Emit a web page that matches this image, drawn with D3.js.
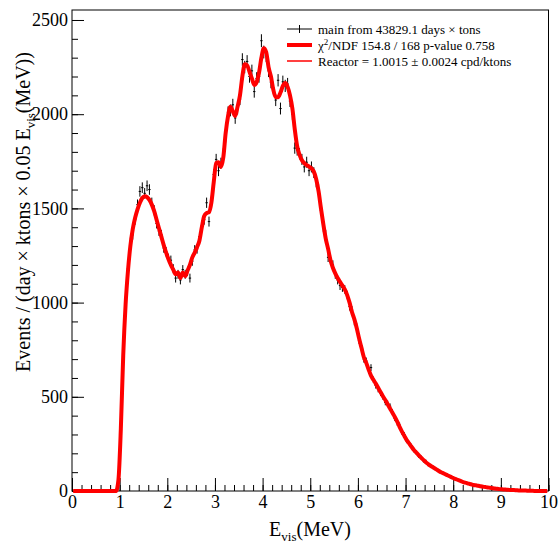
<!DOCTYPE html>
<html>
<head>
<meta charset="utf-8">
<script src="https://cdn.jsdelivr.net/npm/d3@7"></script>
<style>
  body { margin: 0; background: #fff; }
  svg text { font-family: "Liberation Serif", "Times New Roman", serif; fill: #000; }
</style>
</head>
<body>
<svg id="chart" width="558" height="543"></svg>
<script>
// Bin width of the histogram (MeV)
const binWidth = 0.05;

// Fit curve, one value per 0.05 MeV bin from 0 to 10 MeV
const fitValues = [
    0, 0, 0, 0, 0, 0, 0, 0, 0, 0,
    0, 0, 0, 0, 0, 0, 0, 0, 0, 60,
    330, 720, 990, 1170, 1300, 1390, 1450, 1495, 1530, 1555,
    1565, 1560, 1545, 1520, 1485, 1440, 1395, 1350, 1305, 1265,
    1230, 1200, 1175, 1150, 1160, 1130, 1160, 1140, 1170, 1200,
    1240, 1265, 1295, 1330, 1400, 1460, 1475, 1480, 1530, 1640,
    1740, 1745, 1720, 1770, 1900, 1990, 2040, 2015, 1990, 2040,
    2100, 2200, 2265, 2260, 2225, 2190, 2155, 2170, 2220, 2300,
    2350, 2330, 2250, 2200, 2130, 2090, 2090, 2115, 2150, 2165,
    2145, 2100, 2030, 1920, 1830, 1785, 1755, 1740, 1730, 1722,
    1712, 1695, 1655, 1590, 1500, 1415, 1340, 1285, 1225, 1185,
    1155, 1130, 1110, 1090, 1070, 1040, 1000, 950, 912, 865,
    810, 760, 710, 680, 645, 612, 590, 570, 548, 525,
    503, 483, 460, 438, 415, 393, 368, 340, 315, 292,
    270, 253, 235, 218, 204, 190, 177, 165, 153, 143,
    134, 126, 118, 110, 102, 96, 90, 84, 78, 72,
    66, 61, 56, 51, 46, 43, 39, 36, 32, 30,
    28, 25, 23, 21, 19, 17, 15, 13, 12, 10,
    9, 8, 7, 6, 5, 5, 4, 3, 3, 2,
    2, 1, 1, 1, 0, 0, 0, 0, 0, 0
];

// Measured points, starting at bin 20 (1.0 - 1.05 MeV)
const firstDataBin = 20;
const dataValues = [
    340, 700, 1000, 1180, 1320, 1360, 1440, 1520, 1590, 1610,
    1580, 1620, 1600, 1530, 1490, 1420, 1380, 1360, 1290, 1270,
    1235, 1225, 1180, 1130, 1150, 1120, 1175, 1150, 1165, 1130,
    1220, 1280, 1285, 1350, 1410, 1440, 1530, 1430, 1540, 1680,
    1760, 1700, 1740, 1790, 1880, 2010, 2020, 2050, 1980, 2030,
    2080, 2290, 2250, 2280, 2200, 2230, 2120, 2190, 2200, 2390,
    2330, 2310, 2230, 2170, 2140, 2075, 2180, 2030, 2172, 2150,
    2160, 2070, 2000, 1820, 1810, 1790, 1760, 1720, 1745, 1700,
    1720, 1690, 1640, 1600, 1490, 1400, 1360, 1240, 1230, 1200,
    1150, 1120, 1090, 1080, 1070, 1040, 980, 960, 900, 870,
    800, 770, 700, 690, 640, 655, 590, 560, 540, 520,
    500, 470, 465, 450, 420, 385, 360, 350, 310, 300,
    265, 255, 240, 215, 205, 185, 180, 160, 158, 140,
    130, 128, 115, 112, 100, 98, 88, 85, 75, 74,
    65, 62, 54, 52, 45, 44, 38, 37, 31, 30,
    27, 26, 22, 21, 18, 18, 14, 13, 12, 10,
    9, 8, 7, 6, 5, 5, 4, 3, 3, 2
];

// Axis ticks
const xTickValues = [0, 1, 2, 3, 4, 5, 6, 7, 8, 9, 10];
const yTickValues = [0, 500, 1000, 1500, 2000, 2500];

// Legend entries
const legendLabels = [
    "main from 43829.1 days \u00d7 tons",
    "/NDF 154.8 / 168 p-value 0.758",
    "Reactor = 1.0015 \u00b1 0.0024 cpd/ktons"
];

window.onload = init;

function init() {
    const svg = d3.select("#chart");

    const x = d3.scaleLinear().domain([0, 10]).range([72, 548.5]);
    const y = d3.scaleLinear().domain([0, 2553]).range([491, 10]);

    // Minor ticks
    svg.append("g")
        .attr("transform", "translate(0,491)")
        .call(d3.axisBottom(x).tickValues(d3.range(0, 10.01, 0.2)).tickSize(-6).tickFormat(""))
        .call(g => g.select(".domain").remove());
    svg.append("g")
        .attr("transform", "translate(72,0)")
        .call(d3.axisLeft(y).tickValues(d3.range(0, 2501, 100)).tickSize(-6).tickFormat(""))
        .call(g => g.select(".domain").remove());

    // Major ticks + labels
    const xAxis = svg.append("g")
        .attr("transform", "translate(0,491)")
        .call(d3.axisBottom(x).tickValues(xTickValues).tickSize(-13).tickPadding(4.5).tickFormat(d3.format("d")));
    xAxis.select(".domain").remove();

    const yAxis = svg.append("g")
        .attr("transform", "translate(72,0)")
        .call(d3.axisLeft(y).tickValues(yTickValues).tickSize(-12).tickPadding(4).tickFormat(d3.format("d")));
    yAxis.select(".domain").remove();

    svg.selectAll(".tick text").style("font-size", "18px");
    svg.selectAll(".tick line").attr("stroke", "#000");

    // Frame
    svg.append("rect")
        .attr("x", 72).attr("y", 10)
        .attr("width", 476.5).attr("height", 481)
        .attr("fill", "none").attr("stroke", "#000").attr("stroke-width", 1);

    // Data points with error bars
    const points = dataValues.map((v, i) => ({
        e: (firstDataBin + i + 0.5) * binWidth,
        v: v,
        err: 0.7 * Math.sqrt(v)   // statistical error
    }));

    const pts = svg.append("g").attr("stroke", "#000").attr("stroke-width", 1);
    pts.selectAll(".ebar")
        .data(points)
        .join("line")
        .attr("x1", d => x(d.e)).attr("x2", d => x(d.e))
        .attr("y1", d => y(d.v - d.err)).attr("y2", d => y(d.v + d.err));
    pts.selectAll(".hbar")
        .data(points)
        .join("line")
        .attr("x1", d => x(d.e - binWidth / 2)).attr("x2", d => x(d.e + binWidth / 2))
        .attr("y1", d => y(d.v)).attr("y2", d => y(d.v));

    // Fit curve
    const fitPoints = fitValues.map((v, i) => [(i + 0.5) * binWidth, v]);
    const line = d3.line()
        .x(d => x(d[0]))
        .y(d => y(d[1]))
        .curve(d3.curveMonotoneX);
    svg.append("path")
        .datum(fitPoints)
        .attr("d", line)
        .attr("fill", "none")
        .attr("stroke", "#ff0000")
        .attr("stroke-width", 4)
        .attr("stroke-linejoin", "round");

    // Axis titles
    const xTitle = svg.append("text")
        .attr("x", 310).attr("y", 536)
        .attr("text-anchor", "middle")
        .style("font-size", "20px");
    xTitle.append("tspan").text("E");
    xTitle.append("tspan").attr("dy", 5).style("font-size", "13px").text("vis");
    xTitle.append("tspan").attr("dy", -5).text("(MeV)");

    const yTitle = svg.append("text")
        .attr("transform", "translate(30,212) rotate(-90)")
        .attr("text-anchor", "middle")
        .style("font-size", "20px");
    yTitle.append("tspan").text("Events / (day \u00d7 ktons \u00d7 0.05 E");
    yTitle.append("tspan").attr("dy", 5).style("font-size", "13px").text("vis");
    yTitle.append("tspan").attr("dy", -5).text("(MeV))");

    // Legend
    const legend = svg.append("g");
    const rowY = [29, 45, 61];

    legend.append("line").attr("x1", 287).attr("x2", 312).attr("y1", rowY[0]).attr("y2", rowY[0])
        .attr("stroke", "#000");
    legend.append("line").attr("x1", 299.5).attr("x2", 299.5).attr("y1", rowY[0] - 4).attr("y2", rowY[0] + 4)
        .attr("stroke", "#000");
    legend.append("line").attr("x1", 287).attr("x2", 312).attr("y1", rowY[1]).attr("y2", rowY[1])
        .attr("stroke", "#ff0000").attr("stroke-width", 4);
    legend.append("line").attr("x1", 287).attr("x2", 312).attr("y1", rowY[2]).attr("y2", rowY[2])
        .attr("stroke", "#ff0000").attr("stroke-width", 1.5);

    legend.append("text").attr("x", 318).attr("y", rowY[0] + 4.5)
        .style("font-size", "13px").text(legendLabels[0]);
    const chi = legend.append("text").attr("x", 318).attr("y", rowY[1] + 4.5)
        .style("font-size", "13px");
    chi.append("tspan").text("\u03c7");
    chi.append("tspan").attr("dy", -5).style("font-size", "9px").text("2");
    chi.append("tspan").attr("dy", 5).text(legendLabels[1]);
    legend.append("text").attr("x", 318).attr("y", rowY[2] + 4.5)
        .style("font-size", "13px").text(legendLabels[2]);
}
</script>
</body>
</html>
